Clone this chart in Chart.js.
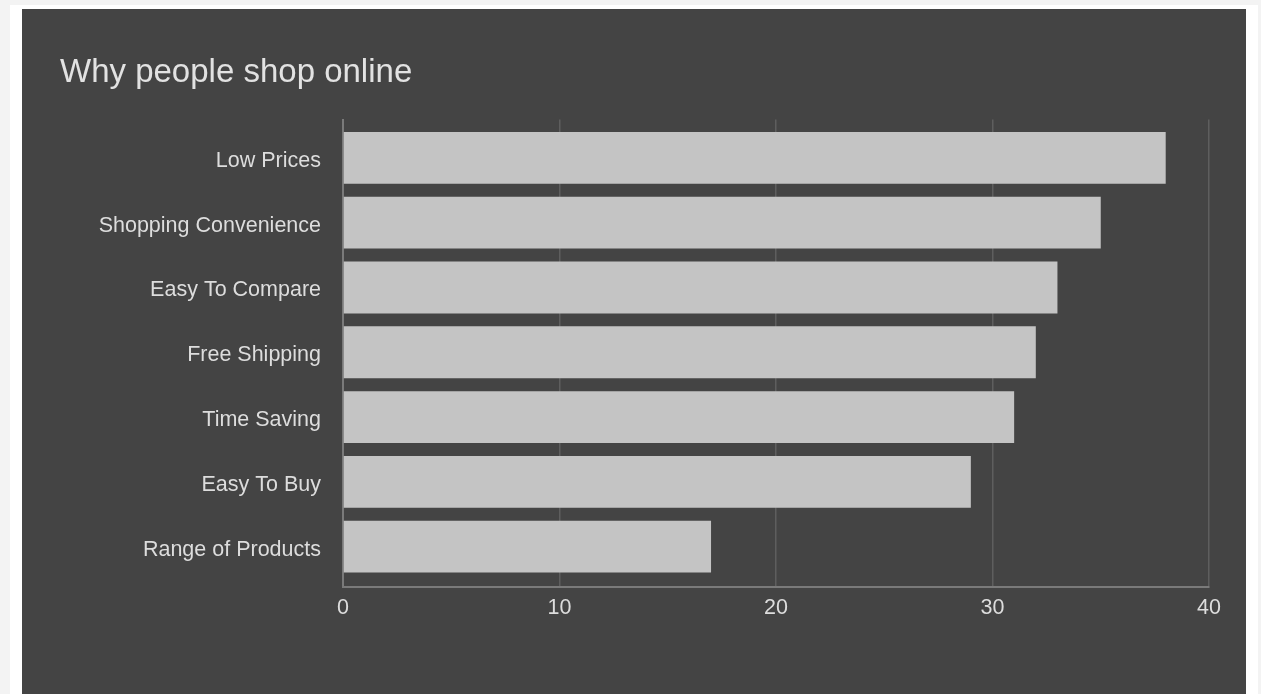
<!DOCTYPE html>
<html>
<head>
<meta charset="utf-8">
<script src="https://cdn.jsdelivr.net/npm/chart.js@4"></script>
<style>
  html, body { margin: 0; padding: 0; background: #f3f3f3; }
  #card { position: absolute; left: 10px; top: 5px; width: 1248px; height: 700px; background: #ffffff; }
  #panel { position: absolute; left: 22px; top: 9px; width: 1224px; height: 685px; background: #444444; }
</style>
</head>
<body>
<div id="card"></div>
<div id="panel"><canvas id="myChart" width="1224" height="685"></canvas></div>
<script>
// reasons and share of people
const reasons = ['Low Prices', 'Shopping Convenience', 'Easy To Compare', 'Free Shipping', 'Time Saving', 'Easy To Buy', 'Range of Products'];
const counts = [38, 35, 33, 32, 31, 29, 17];
const xTicks = [0, 10, 20, 30, 40];

// rows are placed on a numeric axis so the gap above/below the bars can differ
const points = counts.map((c, i) => ({ x: c, y: i }));

const ctx = document.getElementById('myChart').getContext('2d');
const chart = new Chart(ctx, {
    type: 'bar',
    data: {
        datasets: [{
            label: 'Reasons',
            data: points,
            backgroundColor: '#c4c4c4',
            borderWidth: 0,
            barPercentage: 0.8,
            categoryPercentage: 1
        }]
    },
    options: {
        indexAxis: 'y',
        responsive: false,
        animation: false,
        layout: {
            padding: { left: 38, right: 37, top: 0, bottom: 65 }
        },
        plugins: {
            legend: { display: false },
            tooltip: { enabled: false },
            title: {
                display: true,
                text: 'Why people shop online',
                align: 'start',
                color: '#e2e2e2',
                font: { family: 'Liberation Sans, Arial, sans-serif', size: 33, weight: 'normal' },
                padding: { top: 44, bottom: 27 }
            }
        },
        scales: {
            x: {
                min: xTicks[0],
                max: xTicks[xTicks.length - 1],
                afterBuildTicks: axis => { axis.ticks = xTicks.map(v => ({ value: v })); },
                grid: { color: '#5e5e5e', drawTicks: false, lineWidth: 1.5 },
                border: { color: '#7a7a7a', width: 2 },
                ticks: {
                    color: '#dddddd',
                    padding: 8,
                    font: { family: 'Liberation Sans, Arial, sans-serif', size: 21.5 }
                }
            },
            y: {
                type: 'linear',
                reverse: true,
                offset: false,
                min: -0.59,
                max: reasons.length - 1 + 0.625,
                afterBuildTicks: axis => { axis.ticks = reasons.map((r, i) => ({ value: i })); },
                afterFit: axis => { axis.width = 283; },
                grid: { display: false, drawTicks: false, offset: false },
                border: { color: '#7a7a7a', width: 2 },
                ticks: {
                    color: '#dddddd',
                    padding: 22,
                    labelOffset: 3,
                    callback: v => reasons[v],
                    font: { family: 'Liberation Sans, Arial, sans-serif', size: 21.5 }
                }
            }
        }
    }
});
</script>
</body>
</html>
